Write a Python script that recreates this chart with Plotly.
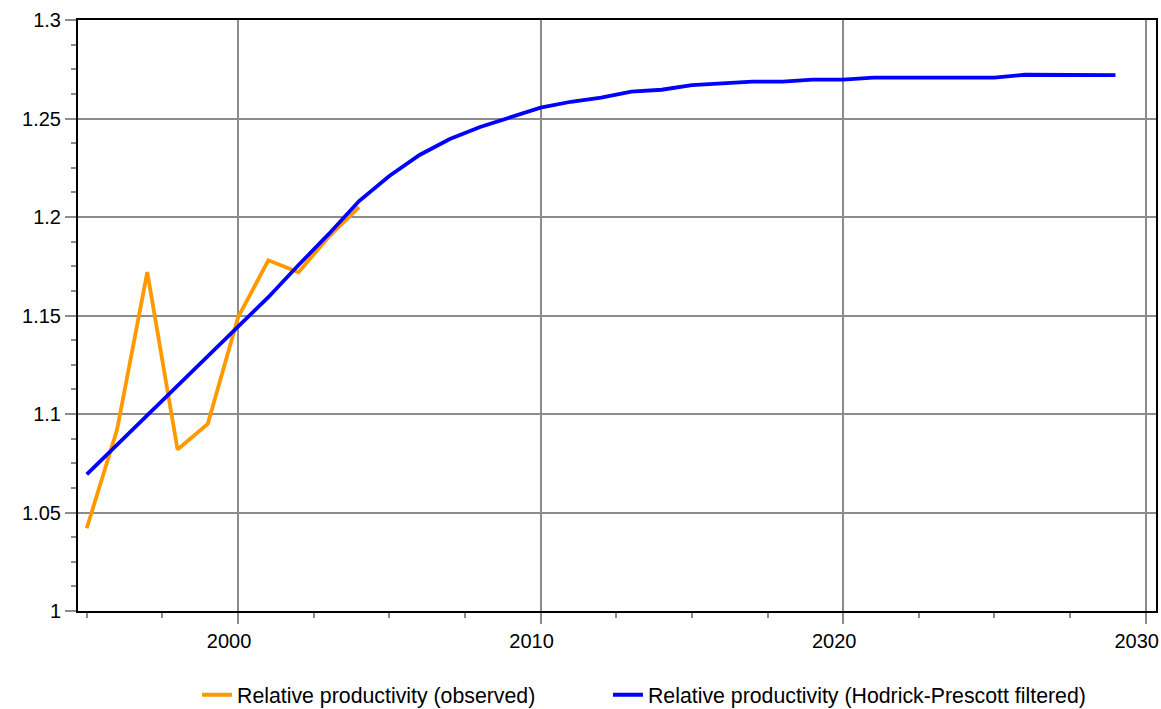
import plotly.graph_objects as go

years_obs = [1995, 1996, 1997, 1998, 1999, 2000, 2001, 2002, 2003, 2004]
observed = [1.042, 1.092, 1.172, 1.082, 1.095, 1.149, 1.178, 1.172, 1.190, 1.205]

years_hp = list(range(1995, 2030))
hp_filtered = [1.0694, 1.0845, 1.0995, 1.1145, 1.1295, 1.1445, 1.1593, 1.1756, 1.1914, 1.2081,
               1.2208, 1.2315, 1.2396, 1.2457, 1.2508, 1.2555, 1.2585, 1.2606, 1.2636, 1.2646,
               1.2669, 1.2679, 1.2687, 1.2687, 1.2697, 1.2697, 1.2707, 1.2707, 1.2707, 1.2707,
               1.2707, 1.2722, 1.2722, 1.2722, 1.2720]

x_tickvals = [2000, 2010, 2020, 2030]
y_tickvals = [1, 1.05, 1.1, 1.15, 1.2, 1.25, 1.3]
y_ticktext = ["1", "1.05", "1.1", "1.15", "1.2", "1.25", "1.3"]

FONT = "Liberation Sans, Arial, sans-serif"

fig = go.Figure()
fig.add_trace(go.Scatter(x=years_obs, y=observed, mode="lines",
                         name="Relative productivity (observed)",
                         line=dict(color="#FF9900", width=3.8), legend="legend"))
fig.add_trace(go.Scatter(x=years_hp, y=hp_filtered, mode="lines",
                         name="Relative productivity (Hodrick-Prescott filtered)",
                         line=dict(color="#0000FF", width=3.8), legend="legend2"))

legend_common = dict(orientation="h", xanchor="left", y=-0.142, yanchor="middle",
                     font=dict(size=21.3), bgcolor="rgba(0,0,0,0)")

fig.update_layout(
    width=1161, height=709,
    margin=dict(l=78, r=5, t=20, b=98, autoexpand=False),
    paper_bgcolor="white", plot_bgcolor="white",
    font=dict(family=FONT, size=20, color="black"),
    showlegend=True,
    legend=dict(x=0.1104, **legend_common),
    legend2=dict(x=0.4916, **legend_common),
)
fig.update_xaxes(
    range=[1994.71, 2030.34], tickmode="array", tickvals=x_tickvals,
    automargin=False, ticklabeloverflow="allow", ticklabelshift=-9,
    showgrid=True, gridcolor="#8c8c8c", gridwidth=1.7,
    showline=True, linecolor="black", linewidth=2, mirror=True,
    ticks="outside", ticklen=11, tickcolor="#8c8c8c", tickwidth=1.7,
    minor=dict(dtick=2.5, tick0=2000, ticks="outside", ticklen=5, tickcolor="#8c8c8c",
               tickwidth=1.7, showgrid=False),
    zeroline=False,
)
fig.update_yaxes(
    range=[1, 1.3], tickmode="array", tickvals=y_tickvals, ticktext=y_ticktext,
    automargin=False, ticklabeloverflow="allow",
    showgrid=True, gridcolor="#8c8c8c", gridwidth=1.7,
    showline=True, linecolor="black", linewidth=2, mirror=True,
    ticks="outside", ticklen=11, tickcolor="#8c8c8c", tickwidth=1.7,
    minor=dict(dtick=0.0125, tick0=1, ticks="outside", ticklen=5, tickcolor="#8c8c8c",
               tickwidth=1.7, showgrid=False),
    zeroline=False,
)

# remove the default 8px page margin so the figure sits at the window's top-left corner
page_fix = ("document.body.style.margin='0';"
            "document.body.style.overflow='hidden';"
            "document.documentElement.style.overflow='hidden';")

fig.write_html("out.html", post_script=page_fix, config={"displayModeBar": False})
